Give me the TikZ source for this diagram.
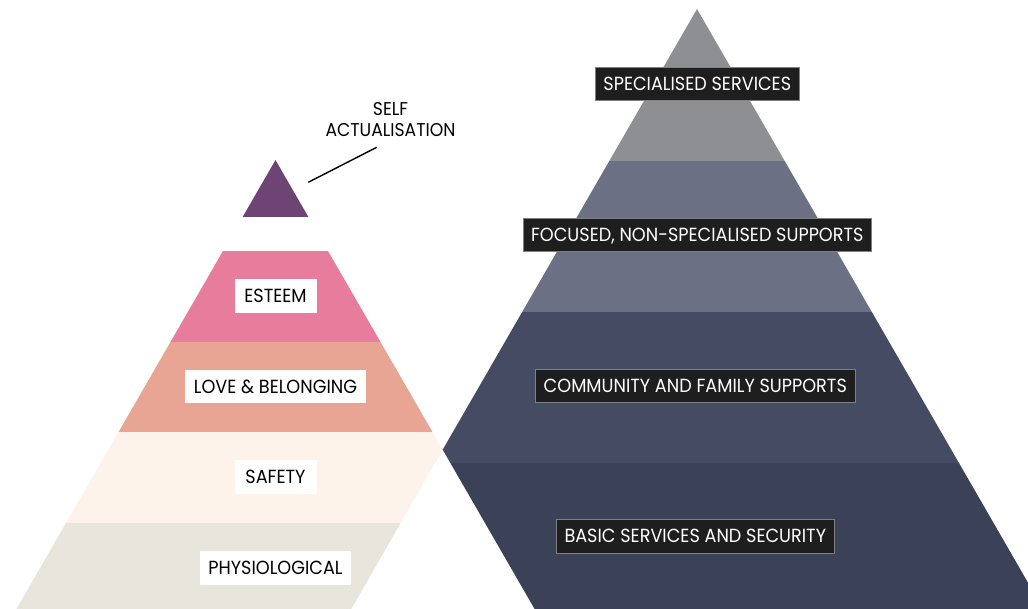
\documentclass[tikz,border=0pt]{standalone}
\usepackage{fontspec}
\usepackage{xcolor}
\newfontfamily\labelfont{Poppins}[FakeStretch=0.93]

\definecolor{selfcol}{HTML}{6E4474}
\definecolor{esteemcol}{HTML}{E87C9C}
\definecolor{lovecol}{HTML}{E8A594}
\definecolor{safetycol}{HTML}{FDF3EA}
\definecolor{physiocol}{HTML}{E8E5DC}
\definecolor{specialcol}{HTML}{8E8F92}
\definecolor{focuscol}{HTML}{6C7084}
\definecolor{communitycol}{HTML}{454B62}
\definecolor{basiccol}{HTML}{3B4156}
\definecolor{labelblack}{HTML}{1E1E1E}

\begin{document}
\begin{tikzpicture}[x=1pt, y=-1pt,
        % Define label styles
        lightlabel/.style={
        rectangle,
        fill=white,
        text=black,
        font=\labelfont\fontsize{19}{19}\selectfont,
        inner xsep=8.5pt,
        inner ysep=10pt,
        text height=13.3pt,
        text depth=0pt,
        minimum width=82pt
        },
        darklabel/.style={
        lightlabel,
        fill=labelblack,
        draw=black!50,
        line width=0.6pt,
        text=white,
        inner xsep=8pt,
        minimum width=0pt
        },
        selfnote/.style={
        align=center,
        inner sep=0pt,
        font=\labelfont\fontsize{18.5}{21}\selectfont
        }]
        \useasboundingbox (0,0) rectangle (1028,609);
        % Corners
        \coordinate (lapex) at (275.5,160);
        \coordinate (rapex) at (697,9);
        \coordinate (cross) at (442.7,449.7);
        \coordinate (lbotleft) at (16.4,609);
        \coordinate (lbotright) at (351.3,609);
        \coordinate (rbotleft) at (534.6,609);
        \coordinate (rbotright) at (1043.2,609);

        % Needs pyramid
        \begin{scope}
        \clip (lapex) -- (cross) -- (lbotright) -- (lbotleft) -- cycle;
        \foreach \top/\bot/\col in {160/217.3/selfcol, 251/341.7/esteemcol,
            341.7/432.3/lovecol, 432.3/522.7/safetycol, 522.7/609/physiocol}
            \fill[\col] (0,\top) rectangle (1028,\bot);
        \end{scope}

        % Services pyramid
        \begin{scope}
        \clip (rapex) -- (rbotright) -- (rbotleft) -- (cross) -- cycle;
        \foreach \top/\bot/\col in {9/161/specialcol, 161/311.7/focuscol,
            311.7/463.3/communitycol, 463.3/609/basiccol}
            \fill[\col] (0,\top) rectangle (1028,\bot);
        \end{scope}

        % Nodes
        \node[lightlabel] (esteem) at (275.5,296) {ESTEEM};
        \node[lightlabel] (love) at (275.5,386.7) {LOVE \& BELONGING};
        \node[lightlabel] (safety) at (275.5,477) {SAFETY};
        \node[lightlabel] (physio) at (275.5,568) {PHYSIOLOGICAL};
        \node[darklabel] (specialised) at (697.3,83.7) {SPECIALISED SERVICES};
        \node[darklabel] (focused) at (697.3,234.7) {FOCUSED, NON-SPECIALISED SUPPORTS};
        \node[darklabel] (community) at (695.3,385.5) {COMMUNITY AND FAMILY SUPPORTS};
        \node[darklabel] (basic) at (695.3,536.3) {BASIC SERVICES AND SECURITY};
        \node[selfnote, anchor=south] (selfact) at (390.5,136.7) {SELF\\ACTUALISATION};

        % Pointer
        \coordinate (selftip) at (308.3,182.3);
        \coordinate (selfend) at (376.7,147.3);
        \draw[line width=1.4pt] (selftip) -- (selfend);
    \end{tikzpicture}
\end{document}
